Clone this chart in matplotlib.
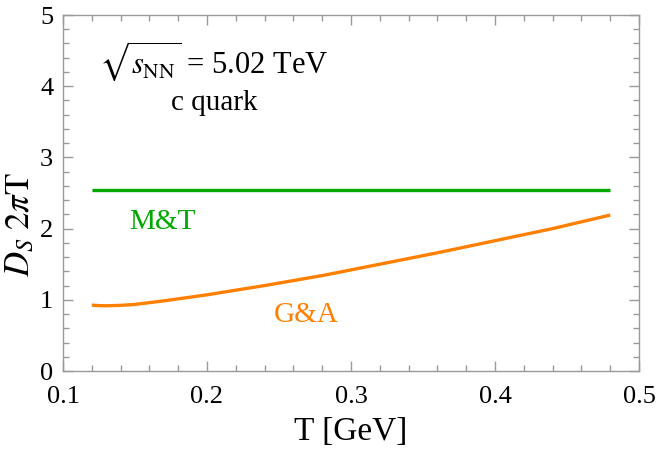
import matplotlib
matplotlib.use("Agg")
import matplotlib.pyplot as plt
from matplotlib.ticker import MultipleLocator

plt.rcParams['font.family'] = ['Liberation Serif', 'DejaVu Serif']
plt.rcParams['mathtext.fontset'] = 'stix'

# Data
T_mt = [0.12, 0.48]
D_mt = [2.54, 2.54]
T_ga = [0.12, 0.125, 0.13, 0.14, 0.15, 0.17, 0.20, 0.24, 0.28, 0.32, 0.36, 0.40, 0.44, 0.48]
D_ga = [0.925, 0.918, 0.916, 0.922, 0.935, 0.985, 1.07, 1.20, 1.34, 1.50, 1.66, 1.83, 2.00, 2.19]

xticks = [0.1, 0.2, 0.3, 0.4, 0.5]
xticklabels = ['0.1', '0.2', '0.3', '0.4', '0.5']
yticks = [0, 1, 2, 3, 4, 5]
yticklabels = ['0', '1', '2', '3', '4', '5']

green = '#00a800'
orange = '#ff8000'
spine = '#9a9a9a'

fig = plt.figure(figsize=(6.57, 4.49), dpi=100)
ax = fig.add_axes([63/657, 1-371/449, 576/657, 356/449])

ax.plot(T_mt, D_mt, color=green, lw=2.4, solid_capstyle='butt')
ax.plot(T_ga, D_ga, color=orange, lw=2.4, solid_capstyle='butt')

ax.set_xlim(0.1, 0.5)
ax.set_ylim(0, 5)
ax.set_xticks(xticks)
ax.set_xticklabels(xticklabels)
ax.set_yticks(yticks)
ax.set_yticklabels(yticklabels)
ax.xaxis.set_minor_locator(MultipleLocator(0.02))
ax.yaxis.set_minor_locator(MultipleLocator(0.2))
ax.tick_params(which='both', direction='in', top=True, right=True, color=spine,
               labelsize=19, labelcolor='black', width=1)
ax.tick_params(which='major', length=7)
ax.tick_params(which='minor', length=4)
ax.tick_params(axis='x', pad=11)
ax.tick_params(axis='y', pad=7)
for s in ax.spines.values():
    s.set_color(spine)
    s.set_linewidth(1)

ax.set_xlabel('T [GeV]', fontsize=24, labelpad=6)
ax.set_ylabel(r'$D_S\ 2\pi\mathrm{T}$', fontsize=25)
ax.yaxis.set_label_coords(-0.045, 0.41)

ax.text(0.205, 4.35, r'$\sqrt{s_{\mathrm{NN}}}$ = 5.02 TeV', fontsize=22, ha='center', va='center')
ax.text(0.205, 3.76, 'c quark', fontsize=21, ha='center', va='center')
ax.text(0.169, 2.09, 'M&T', fontsize=21, color=green, ha='center', va='center')
ax.text(0.269, 0.79, 'G&A', fontsize=21, color=orange, ha='center', va='center')

fig.savefig('out.png', dpi=100)
